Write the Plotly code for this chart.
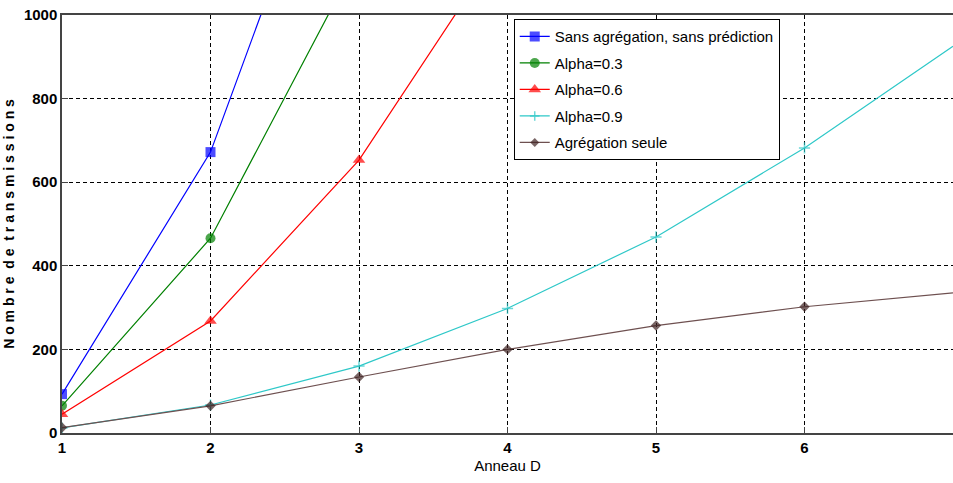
import plotly.graph_objects as go

x = [1, 2, 3, 4, 5, 6, 7]
sans_agreg = [93, 672, 1640]
alpha03 = [65, 466, 1140]
alpha06 = [45, 268, 653, 1190]
alpha09 = [12, 67, 160, 298, 469, 682, 925]
agreg_seule = [13, 65, 134, 200, 257, 302, 335]

names = ["Sans agrégation, sans prédiction", "Alpha=0.3", "Alpha=0.6", "Alpha=0.9", "Agrégation seule"]
series = [sans_agreg, alpha03, alpha06, alpha09, agreg_seule]
colors = ["#0000FF", "#008000", "#FF0000", "#2EC8C8", "#6E5050"]
mcolors = ["#0000FF", "#008000", "#FF0000", "#2EC8C8", "#3F2222"]
symbols = ["square", "circle", "triangle-up", "cross-thin", "diamond"]
sizes = [10, 10, 11, 8, 8]

FONT = "Liberation Sans, Arial"

fig = go.Figure()
for i, (name, ys, c, mc, s, sz) in enumerate(zip(names, series, colors, mcolors, symbols, sizes)):
    mline = dict(width=1.5, color=mc) if s == "cross-thin" else dict(width=0)
    xs = x[:len(ys)]
    msizes = [sz if xv < 7 else 0 for xv in xs]
    fig.add_trace(go.Scatter(
        x=xs, y=ys, name=name, mode="lines+markers", legendgroup=str(i),
        line=dict(color=c, width=1.2),
        marker=dict(symbol=s, size=msizes, color=mc, line=mline),
        cliponaxis=True,
    ))

fig.update_layout(
    width=953, height=483,
    margin=dict(l=62, r=0, t=15, b=50),
    plot_bgcolor="white", paper_bgcolor="white",
    font=dict(family=FONT, size=14, color="black"),
    showlegend=True,
    legend=dict(
        x=0.507, y=0.99, xanchor="left", yanchor="top",
        bgcolor="white", bordercolor="black", borderwidth=1,
        font=dict(family=FONT, size=15, color="black"),
        tracegroupgap=4, itemwidth=30,
    ),
)
fig.update_xaxes(
    range=[1, 7], tickvals=[1, 2, 3, 4, 5, 6], ticktext=["<b>%d</b>" % v for v in [1, 2, 3, 4, 5, 6]],
    showgrid=True, gridcolor="black", griddash="4px,3px", gridwidth=1,
    showline=True, linecolor="#444444", linewidth=1.5, mirror=True,
    ticks="inside", ticklen=6, tickcolor="#444444", zeroline=False,
    tickfont=dict(family=FONT, size=15, color="black"),
    title=dict(text="Anneau D", font=dict(family=FONT, size=15), standoff=6),
)
fig.update_yaxes(
    range=[0, 1000], tickvals=[0, 200, 400, 600, 800, 1000],
    ticktext=["<b>%d</b>" % v for v in [0, 200, 400, 600, 800, 1000]],
    showgrid=True, gridcolor="black", griddash="4px,3px", gridwidth=1,
    showline=True, linecolor="#444444", linewidth=1.5,
    ticks="inside", ticklen=6, tickcolor="#444444", zeroline=False,
    tickfont=dict(family=FONT, size=15, color="black"),
    title=dict(text="<b>N o m b r e  d e  t r a n s m i s s i o n s</b>",
               font=dict(family=FONT, size=14), standoff=6),
)
fig.write_html("out.html")
